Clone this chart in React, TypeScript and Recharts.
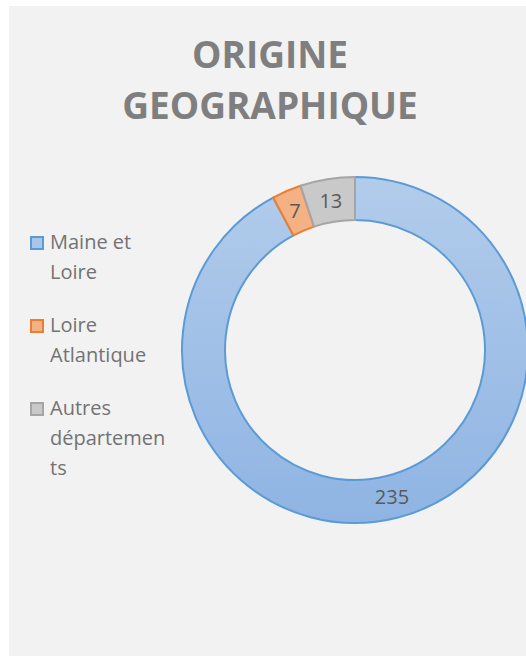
import { PieChart, Pie, Cell, Legend } from "recharts";

const categories = ["Maine et Loire", "Loire Atlantique", "Autres départements"];
const legendLines = [["Maine et", "Loire"], ["Loire", "Atlantique"], ["Autres", "départemen", "ts"]];
const values = [235, 7, 13];

const FILLS = ["url(#blueGrad)", "#f4b183", "#c9c9c9"];
const STROKES = ["#5b9bd5", "#ed7d31", "#a5a5a5"];
const SWATCH = ["#a9c6ea", "#f4b183", "#c9c9c9"];

const data = categories.map((name, i) => ({ name, value: values[i] }));

const RAD = Math.PI / 180;

const renderLabel = (props: any) => {
  const { cx, cy, midAngle, innerRadius, outerRadius, value } = props;
  const r = (innerRadius + outerRadius) / 2;
  const x = cx + r * Math.cos(-midAngle * RAD);
  const y = cy + r * Math.sin(-midAngle * RAD);
  return (
    <text x={x} y={y} textAnchor="middle" dominantBaseline="central" fill="#595959" fontSize={20} fontFamily="Open Sans">
      {value}
    </text>
  );
};

const LegendContent = () => (
  <div style={{ fontFamily: "Open Sans", fontSize: 20, color: "#737373" }}>
    {legendLines.map((lines, i) => (
      <div key={i} style={{ position: "relative", marginBottom: 23, lineHeight: "30px" }}>
        <span
          style={{
            position: "absolute",
            left: 0,
            top: 9,
            width: 10,
            height: 10,
            background: SWATCH[i],
            border: `2px solid ${STROKES[i]}`,
          }}
        />
        <div style={{ paddingLeft: 20 }}>
          {lines.map((l, j) => (
            <div key={j}>{l}</div>
          ))}
        </div>
      </div>
    ))}
  </div>
);

export default function App() {
  return (
    <div style={{ position: "absolute", left: 9, top: 6, width: 517, height: 650, background: "#f2f2f2" }}>
      <div
        style={{
          position: "absolute",
          left: 0,
          width: 522,
          top: 22,
          textAlign: "center",
          fontFamily: "Open Sans",
          fontWeight: "bold",
          fontSize: 37,
          lineHeight: "51px",
          color: "#7f7f7f",
        }}
      >
        ORIGINE
        <br />
        GEOGRAPHIQUE
      </div>
      <PieChart width={517} height={650} style={{ position: "absolute", left: 0, top: 0 }}>
        <defs>
          <linearGradient id="blueGrad" x1="0" y1="0" x2="0" y2="1">
            <stop offset="0%" stopColor="#b2cceb" />
            <stop offset="100%" stopColor="#8fb4e3" />
          </linearGradient>
        </defs>
        <Pie
          data={data}
          dataKey="value"
          nameKey="name"
          cx={341}
          cy={339}
          innerRadius={130}
          outerRadius={173}
          startAngle={90}
          endAngle={-270}
          strokeWidth={2}
          label={renderLabel}
          labelLine={false}
          isAnimationActive={false}
        >
          {data.map((d, i) => (
            <Cell key={d.name} fill={FILLS[i]} stroke={STROKES[i]} />
          ))}
        </Pie>
        <Legend
          layout="vertical"
          content={<LegendContent />}
          wrapperStyle={{ position: "absolute", left: 21, top: 221, width: 160 }}
        />
      </PieChart>
    </div>
  );
}
